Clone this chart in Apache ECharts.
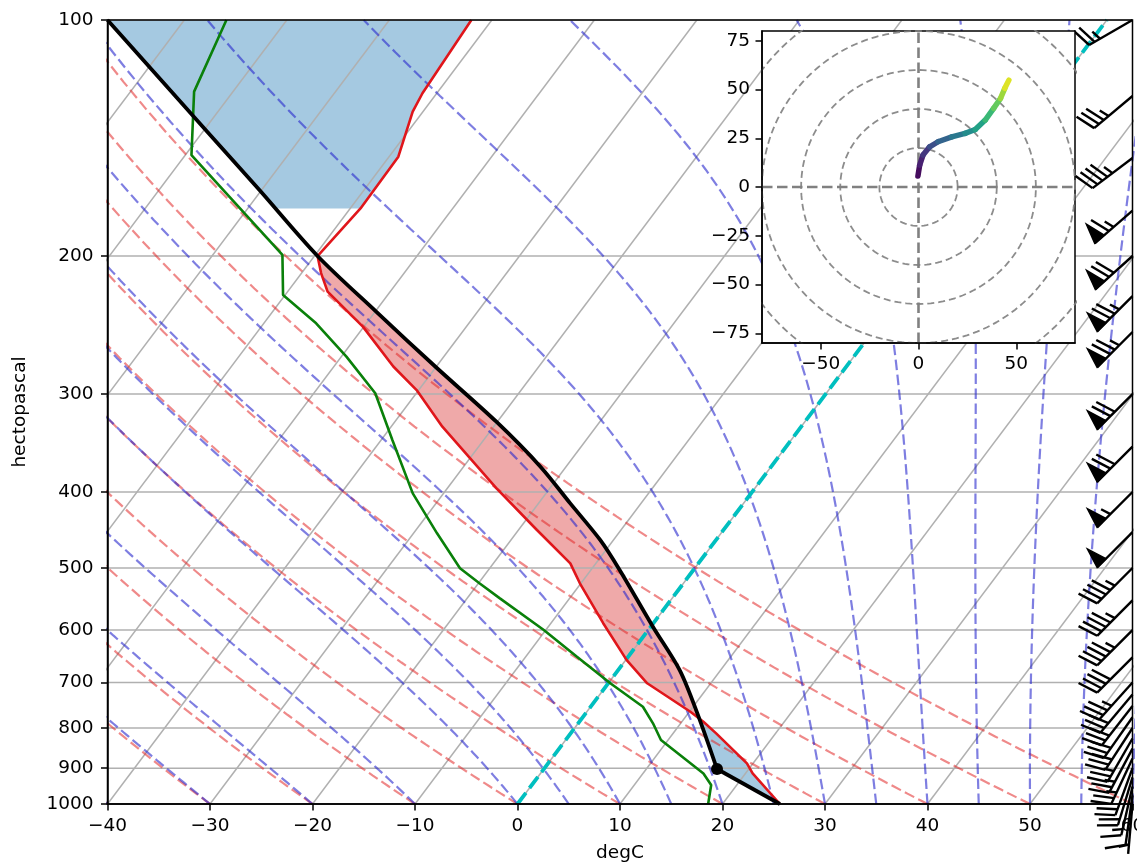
<!DOCTYPE html>
<html><head><meta charset="utf-8">
<script src="https://cdn.jsdelivr.net/npm/echarts@6/dist/echarts.min.js"></script>
<style>html,body{margin:0;padding:0;background:#fff}#c{width:1137px;height:866px}</style>
</head><body><div id="c"></div>
<script>
// ---------------- data ----------------
const tempP = [1000, 914.2, 887.4, 812.6, 785.3, 762.6, 701.5, 655.3, 588.0, 523.0, 493.2, 447.2, 395.7, 330.2, 296.5, 276.7, 246.1, 222.1, 210.3, 200, 173.9, 149.4, 130.9, 124.0, 100];
const tempC = [25.6, 20.7, 19.4, 14.2, 12.1, 10.1, 3.8, 0.1, -4.9, -10.1, -12.5, -18.2, -25.2, -35.0, -40.2, -44.2, -50.1, -56.1, -58.1, -59.7, -59.0, -59.1, -61.0, -61.4, -62.0];
const dewP = [1000, 945.7, 914.2, 828.6, 789.0, 751.5, 701.5, 648.9, 599.8, 546.6, 523.0, 500.4, 451.6, 401.6, 343.4, 299.3, 268.8, 243.7, 224.3, 199.4, 148.7, 123.4, 100];
const dewC = [18.6, 17.5, 15.9, 9.3, 7.3, 5.1, 0.2, -5.0, -10.2, -16.8, -19.9, -22.9, -27.7, -33.0, -38.9, -44.0, -49.5, -54.9, -60.2, -63.2, -79.4, -83.8, -85.9];
const parcelP = [1000, 902.4, 766.3, 674.8, 594.0, 502.9, 460.5, 413.6, 371.3, 325.4, 278.1, 235.5, 200, 164.8, 137.5, 100];
const parcelC = [25.6, 16.9, 10.9, 6.0, 0.2, -7.2, -11.3, -16.9, -22.5, -30.1, -39.8, -49.9, -59.7, -70.2, -80.1, -97.5];
const lclP = 902.4, lclC = 16.9;

const barbP   = [100, 125, 150, 175, 200, 225, 250, 300, 350, 400, 450, 500, 550, 600, 650, 700, 725, 750, 775, 800, 825, 850, 875, 900, 925, 950, 975, 1000];
const barbKt  = [25, 35, 45, 65, 70, 75, 75, 70, 70, 55, 50, 45, 45, 45, 40, 35, 30, 30, 30, 30, 25, 25, 25, 20, 20, 15, 10, 5];
const barbDir = [240, 230, 233, 229, 228, 225, 225, 225, 225, 225, 225, 225, 225, 225, 225, 222, 220, 218, 215, 213, 210, 208, 205, 200, 197, 193, 188, 185];

const hodoU = [-0.3, 0.6, 2.3, 5.7, 10.0, 17.0, 23.8, 29.0, 34.1, 38.4, 41.9, 44.1, 46.2];
const hodoV = [5.6, 11.2, 16.4, 20.6, 23.2, 25.7, 27.5, 29.5, 34.3, 40.3, 45.4, 50.6, 54.8];
const hodoColorValue = [0, 0.06, 0.12, 0.2, 0.28, 0.36, 0.44, 0.52, 0.62, 0.72, 0.8, 0.9, 1.0];

const pressureTicks = [100, 200, 300, 400, 500, 600, 700, 800, 900, 1000];
const hodoXTicks = [-50, 0, 50];
const hodoYTicks = [-75, -50, -25, 0, 25, 50, 75];

// ---------------- skew-T transform ----------------
const K = 57.5;                       // x shift (degC) per decade of pressure
const X = (t, p) => t + K * Math.log10(1000 / p);
const Y = p => Math.log10(p);

const FONT = 'DejaVu Sans';
const FS = 18.5;
const minus = v => String(v).replace('-', '\u2212');

function sortedPairs(ps, ts) {
  return ps.map((p, i) => [p, ts[i]]).sort((a, b) => a[0] - b[0]);
}
function interp(pairs, p) {
  if (p <= pairs[0][0]) return pairs[0][1];
  const n = pairs.length;
  if (p >= pairs[n - 1][0]) return pairs[n - 1][1];
  for (let i = 0; i < n - 1; i++) {
    const a = pairs[i], b = pairs[i + 1];
    if (p >= a[0] && p <= b[0]) {
      const f = (Math.log(p) - Math.log(a[0])) / (Math.log(b[0]) - Math.log(a[0]));
      return a[1] + f * (b[1] - a[1]);
    }
  }
  return pairs[n - 1][1];
}
const tPairs = sortedPairs(tempP, tempC);
const cPairs = sortedPairs(parcelP, parcelC);

function fillRegions(pTop, pBot, sign) {
  let lv = tempP.concat(parcelP).filter(p => p >= pTop && p <= pBot);
  lv.push(pTop, pBot);
  lv = Array.from(new Set(lv)).sort((a, b) => a - b);
  const pts = lv.map(p => ({ p, t: interp(tPairs, p), c: interp(cPairs, p) }));
  const polys = [];
  let run = null;
  for (let k = 0; k < pts.length; k++) {
    const d = sign * (pts[k].c - pts[k].t);
    if (k > 0) {
      const q = pts[k - 1];
      const dp = sign * (q.c - q.t);
      if ((dp > 0) !== (d > 0)) {
        const f = dp / (dp - d);
        const lp = Math.log(q.p) + f * (Math.log(pts[k].p) - Math.log(q.p));
        const cr = { p: Math.exp(lp), t: q.t + f * (pts[k].t - q.t), c: q.c + f * (pts[k].c - q.c) };
        if (dp > 0) { run.push(cr); polys.push(run); run = null; }
        else { run = [cr]; }
      }
    }
    if (d > 0) { if (!run) run = []; run.push(pts[k]); }
  }
  if (run && run.length) polys.push(run);
  return polys.map(r => r.map(q => [X(q.t, q.p), Y(q.p)]).concat(r.slice().reverse().map(q => [X(q.c, q.p), Y(q.p)])));
}
const regions = [];
fillRegions(100, 173.9, -1).forEach(pg => regions.push({ pg, color: 'rgba(31,119,180,0.4)' }));
fillRegions(200, 1000, -1).forEach(pg => regions.push({ pg, color: 'rgba(31,119,180,0.4)' }));
fillRegions(200, 1000, 1).forEach(pg => regions.push({ pg, color: 'rgba(214,39,40,0.4)' }));

// thermodynamic reference lines (background, like grid lines)
const Rd = 287.04749, Lv = 2.50084e6, Cpd = 1004.6662, eps = 0.6219569, kappa = Rd / Cpd;
function dTdp(p, T) {
  const es = 6.112 * Math.exp(17.67 * (T - 273.15) / (T - 29.65));
  const rs = eps * es / (p - es);
  return ((Rd * T + Lv * rs) / (Cpd + Lv * Lv * rs * eps / (Rd * T * T))) / p;
}
function moistLine(t0) {
  let T = t0 + 273.15, p = 1000;
  const pts = [[X(t0, 1000), 3]];
  const h = -5;
  while (p > 100.001) {
    const k1 = dTdp(p, T), k2 = dTdp(p + h / 2, T + h / 2 * k1), k3 = dTdp(p + h / 2, T + h / 2 * k2), k4 = dTdp(p + h, T + h * k3);
    T += h / 6 * (k1 + 2 * k2 + 2 * k3 + k4); p += h;
    pts.push([X(T - 273.15, p), Y(p)]);
  }
  return pts;
}
function dryLine(t0) {
  const pts = [];
  for (let p = 1000; p >= 100; p -= 10) {
    const T = (t0 + 273.15) * Math.pow(p / 1000, kappa) - 273.15;
    pts.push([X(T, p), Y(p)]);
  }
  return pts;
}

const viridisStops = ['#440154', '#482475', '#414487', '#355f8d', '#2a788e', '#21918c', '#22a884', '#44bf70', '#7ad151', '#bddf26', '#fde725'];
function hex2rgb(h) { return [1, 3, 5].map(i => parseInt(h.substr(i, 2), 16)); }
function viridis(t) {
  t = Math.max(0, Math.min(1, t));
  const n = viridisStops.length - 1, x = t * n, i = Math.min(n - 1, Math.floor(x)), f = x - i;
  const a = hex2rgb(viridisStops[i]), b = hex2rgb(viridisStops[i + 1]);
  return 'rgb(' + a.map((v, k) => Math.round(v + f * (b[k] - v))).join(',') + ')';
}

// ---------------- series ----------------
const series = [];
const base = { type: 'line', xAxisIndex: 0, yAxisIndex: 0, showSymbol: false, symbol: 'none', silent: true, animation: false };

series.push({
  type: 'custom', xAxisIndex: 0, yAxisIndex: 0, z: 1, silent: true, clip: true,
  data: regions.map((r, i) => [0, 2.5, i]),
  renderItem: (params, api) => {
    const r = regions[params.dataIndex];
    return { type: 'polygon', shape: { points: r.pg.map(pt => api.coord(pt)) }, style: { fill: r.color } };
  }
});
pressureTicks.forEach(p => series.push(Object.assign({}, base, { z: 2, data: [[-40, Y(p)], [60, Y(p)]], lineStyle: { color: '#b0b0b0', width: 1.5 } })));
for (let t = -90; t <= 60; t += 10) series.push(Object.assign({}, base, { z: 2, data: [[X(t, 1000), 3], [X(t, 100), 2]], lineStyle: { color: '#b0b0b0', width: 1.5 } }));
for (let t0 = -40; t0 <= 60; t0 += 10) series.push(Object.assign({}, base, { z: 3, data: dryLine(t0), lineStyle: { color: 'rgba(225,40,40,0.55)', width: 2.2, type: [10.5, 4.5] } }));
[-40, -30, -20, -10, 0, 5, 10, 15, 20, 25, 30, 35, 40, 45, 50, 55, 60].forEach(t0 =>
  series.push(Object.assign({}, base, { z: 3, data: moistLine(t0), lineStyle: { color: 'rgba(40,40,205,0.6)', width: 2.2, type: [10.5, 4.5] } })));
series.push(Object.assign({}, base, { z: 4, data: [[X(0, 1000), 3], [X(0, 100), 2]], lineStyle: { color: '#00bfbf', width: 3.8, type: [14, 6] } }));
series.push(Object.assign({}, base, { z: 5, data: tempP.map((p, i) => [X(tempC[i], p), Y(p)]), lineStyle: { color: '#e0161b', width: 2.6 } }));
series.push(Object.assign({}, base, { z: 5, data: dewP.map((p, i) => [X(dewC[i], p), Y(p)]), lineStyle: { color: '#0a800a', width: 2.6 } }));
const parcelPts = parcelP.map((p, i) => [X(parcelC[i], p), Y(p)]);
series.push(Object.assign({}, base, { z: 6, data: parcelPts.slice(0, 2), lineStyle: { color: '#000', width: 3.8 } }));
series.push(Object.assign({}, base, { z: 6, smooth: 0.3, data: parcelPts.slice(1), lineStyle: { color: '#000', width: 3.8, join: 'round' } }));
series.push({ type: 'scatter', xAxisIndex: 0, yAxisIndex: 0, z: 7, silent: true, animation: false, symbol: 'circle', symbolSize: 12, itemStyle: { color: '#000', opacity: 1 }, data: [[X(lclC, lclP), Y(lclP)]] });

// wind barbs
series.push({
  type: 'custom', xAxisIndex: 0, yAxisIndex: 0, z: 9, silent: true, clip: false,
  data: barbP.map((p, i) => [60, Y(p), i]), encode: { x: 0, y: 1 },
  renderItem: (params, api) => {
    const i = params.dataIndex;
    const o = api.coord([60, Y(barbP[i])]);
    const d = barbDir[i] * Math.PI / 180;
    const ly = [Math.sin(d), -Math.cos(d)];
    const lx = [Math.cos(d), Math.sin(d)];
    const L = 50, bh = 0.4 * L, fw = 0.25 * L, sp = 0.125 * L;
    const P = (a, b) => [o[0] + a * lx[0] + b * ly[0], o[1] + a * lx[1] + b * ly[1]];
    const mag = 5 * Math.round(barbKt[i] / 5);
    const nf = Math.floor(mag / 50); const rem = mag - 50 * nf;
    const nb = Math.floor(rem / 10); const half = (rem - 10 * nb) >= 5;
    const st = { stroke: '#000', lineWidth: 2.4, fill: null };
    const ch = [{ type: 'line', shape: { x1: o[0], y1: o[1], x2: P(0, L)[0], y2: P(0, L)[1] }, style: st }];
    let off = L;
    for (let k = 0; k < nf; k++) {
      if (off !== L) off += sp / 2;
      ch.push({ type: 'polygon', shape: { points: [P(0, off), P(bh, off - fw / 2), P(0, off - fw)] }, style: { fill: '#000', stroke: '#000', lineWidth: 1.5 } });
      off -= fw + sp;
    }
    for (let k = 0; k < nb; k++) {
      const a = P(0, off), b = P(bh, off + fw / 2);
      ch.push({ type: 'line', shape: { x1: a[0], y1: a[1], x2: b[0], y2: b[1] }, style: st });
      off -= sp;
    }
    if (half) {
      if (off === L) off -= 1.5 * sp;
      const a = P(0, off), b = P(bh / 2, off + fw / 4);
      ch.push({ type: 'line', shape: { x1: a[0], y1: a[1], x2: b[0], y2: b[1] }, style: st });
    }
    return { type: 'group', children: ch };
  }
});

// ---- hodograph inset ----
const hbase = { type: 'line', xAxisIndex: 1, yAxisIndex: 1, showSymbol: false, symbol: 'none', silent: true, animation: false };
for (let r = 20; r < 160; r += 20) {
  const pts = [];
  for (let k = 0; k <= 180; k++) { const a = k / 180 * 2 * Math.PI; pts.push([r * Math.cos(a), r * Math.sin(a)]); }
  series.push(Object.assign({}, hbase, { z: 21, data: pts, lineStyle: { color: 'rgba(128,128,128,0.9)', width: 1.8, type: [7, 4] } }));
}
series.push(Object.assign({}, hbase, { z: 21, data: [[-80, 0], [80, 0]], lineStyle: { color: 'rgba(128,128,128,1)', width: 2.6, type: [10.5, 4.5] } }));
series.push(Object.assign({}, hbase, { z: 21, data: [[0, -80], [0, 80]], lineStyle: { color: 'rgba(128,128,128,1)', width: 2.6, type: [10.5, 4.5] } }));
const segs = [];
for (let i = 0; i < hodoU.length - 1; i++) segs.push([hodoU[i], hodoV[i], hodoU[i + 1], hodoV[i + 1], (hodoColorValue[i] + hodoColorValue[i + 1]) / 2]);
series.push({
  type: 'custom', xAxisIndex: 1, yAxisIndex: 1, z: 22, silent: true, clip: true,
  data: segs, encode: { x: [0, 2], y: [1, 3] },
  renderItem: (params, api) => {
    const s = segs[params.dataIndex];
    const a = api.coord([s[0], s[1]]), b = api.coord([s[2], s[3]]);
    return { type: 'line', shape: { x1: a[0], y1: a[1], x2: b[0], y2: b[1] }, style: { stroke: viridis(s[4]), lineWidth: 5.5, lineCap: 'round' } };
  }
});

// ---------------- chart ----------------
const axisCommon = (z) => ({
  axisLine: { show: true, onZero: false, lineStyle: { color: '#000', width: 1.5 } },
  splitLine: { show: false },
  z
});
const labelStyle = { fontSize: FS, color: '#000', fontFamily: FONT };

const option = {
  animation: false,
  backgroundColor: '#fff',
  grid: [
    { left: 107.5, top: 20, width: 1025, height: 784, outerBoundsMode: 'none', containLabel: false, show: true, borderColor: '#000', borderWidth: 1.5, backgroundColor: 'transparent', z: 8 },
    { left: 762, top: 31, width: 313, height: 312, outerBoundsMode: 'none', containLabel: false, show: true, borderColor: '#000', borderWidth: 1.5, backgroundColor: '#fff', z: 20 }
  ],
  xAxis: [
    Object.assign(axisCommon(9), {
      gridIndex: 0, type: 'value', min: -40, max: 60, interval: 10,
      axisTick: { show: true, length: 6.5, lineStyle: { color: '#000', width: 1.5 } },
      axisLabel: Object.assign({ margin: 13, formatter: v => minus(v) }, labelStyle),
      name: 'degC', nameLocation: 'middle', nameGap: 40, nameTextStyle: labelStyle
    }),
    Object.assign(axisCommon(23), {
      gridIndex: 1, type: 'value', min: -80, max: 80,
      axisTick: { show: true, length: 6.5, customValues: hodoXTicks, lineStyle: { color: '#000', width: 1.5 } },
      axisLabel: Object.assign({ margin: 12, customValues: hodoXTicks, formatter: v => minus(v) }, labelStyle)
    })
  ],
  yAxis: [
    Object.assign(axisCommon(9), {
      gridIndex: 0, type: 'value', min: 2, max: 3, inverse: true,
      axisTick: { show: true, length: 6.5, customValues: pressureTicks.map(Y), lineStyle: { color: '#000', width: 1.5 } },
      axisLabel: Object.assign({ margin: 14, customValues: pressureTicks.map(Y), formatter: v => String(Math.round(Math.pow(10, v))) }, labelStyle),
      name: 'hectopascal', nameLocation: 'middle', nameGap: 78, nameRotate: 90, nameTextStyle: labelStyle
    }),
    Object.assign(axisCommon(23), {
      gridIndex: 1, type: 'value', min: -80, max: 80,
      axisTick: { show: true, length: 6.5, customValues: hodoYTicks, lineStyle: { color: '#000', width: 1.5 } },
      axisLabel: Object.assign({ margin: 12, customValues: hodoYTicks, formatter: v => minus(v) }, labelStyle)
    })
  ],
  series
};
const chart = echarts.init(document.getElementById('c'), null, { renderer: 'canvas' });
chart.setOption(option);
</script>
</body></html>
